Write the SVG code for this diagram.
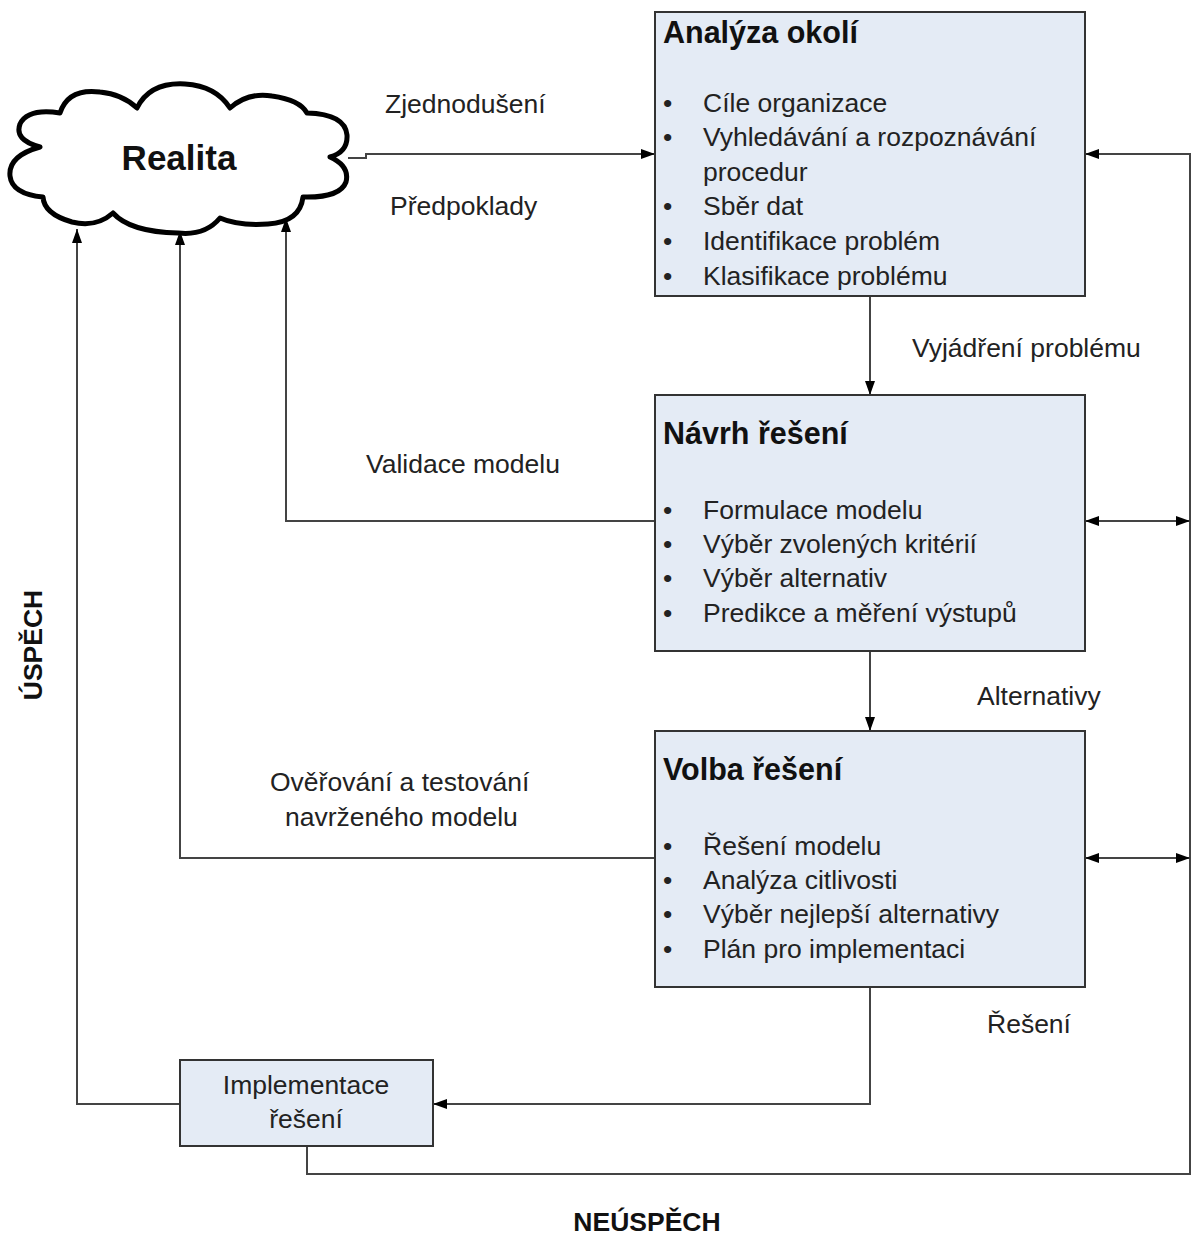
<svg xmlns="http://www.w3.org/2000/svg" width="1192" height="1238" viewBox="0 0 1192 1238">
  <defs>
    <marker id="arr" viewBox="0 0 14 10" refX="14" refY="5" markerWidth="14" markerHeight="10" markerUnits="userSpaceOnUse" orient="auto-start-reverse">
      <path d="M0,0 L14,5 L0,10 Z" fill="#000"/>
    </marker>
    <style>
      .box { fill: #e4ebf5; stroke: #333; stroke-width: 2; }
      .line { fill: none; stroke: #444; stroke-width: 2; }
      .title { font-family: "Liberation Sans", Arial, sans-serif; font-weight: bold; font-size: 30.5px; fill: #111; }
      .item { font-family: "Liberation Sans", Arial, sans-serif; font-size: 26.5px; fill: #222; }
      .lbl { font-family: "Liberation Sans", Arial, sans-serif; font-size: 26.5px; fill: #222; }
      .bold { font-family: "Liberation Sans", Arial, sans-serif; font-weight: bold; font-size: 26.5px; fill: #111; }
    </style>
  </defs>
  <rect width="1192" height="1238" fill="#fff"/>

  <!-- connectors -->
  <g id="connectors">
    <path class="line" d="M348,158 H366 V154 H655" marker-end="url(#arr)"/>
    <path class="line" d="M870,296 V395" marker-end="url(#arr)"/>
    <path class="line" d="M870,651 V731" marker-end="url(#arr)"/>
    <path class="line" d="M870,987 V1104 H433" marker-end="url(#arr)"/>
    <path class="line" d="M180,1104 H77 V229" marker-end="url(#arr)"/>
    <path class="line" d="M655,858 H180 V231" marker-end="url(#arr)"/>
    <path class="line" d="M655,521 H286 V218" marker-end="url(#arr)"/>
    <path class="line" d="M307,1146 V1174 H1190 V154 H1085" marker-end="url(#arr)"/>
    <path class="line" d="M1085,521 H1190" marker-start="url(#arr)" marker-end="url(#arr)"/>
    <path class="line" d="M1085,858 H1190" marker-start="url(#arr)" marker-end="url(#arr)"/>
  </g>

  <!-- cloud -->
  <g id="realita">
    <path d="M60,113 Q68,88 100,92 Q122,94 137,108 Q150,82 185,84 Q216,86 230,108 Q248,92 272,96 Q300,100 307,113 Q345,114 347,135 Q348,152 330,157 Q350,166 346,182 Q340,198 303,197 Q300,222 268,224 Q238,226 220,218 Q205,236 178,233 Q130,232 113,213 Q96,228 72,222 Q44,214 43,197 Q12,194 10,176 Q8,156 40,147 Q14,140 20,124 Q28,108 60,113 Z" fill="#fff" stroke="#000" stroke-width="5" stroke-linejoin="round"/>
    <text x="179" y="170" text-anchor="middle" class="bold" style="font-size:35px">Realita</text>
  </g>

  <!-- analysis box -->
  <g id="analyza">
    <rect class="box" x="655" y="12" width="430" height="284"/>
    <text x="663" y="43" class="title">Analýza okolí</text>
    <g class="item">
      <text x="663" y="112">•</text><text x="703" y="112">Cíle organizace</text>
      <text x="663" y="146">•</text><text x="703" y="146">Vyhledávání a rozpoznávání</text>
      <text x="703" y="181">procedur</text>
      <text x="663" y="215">•</text><text x="703" y="215">Sběr dat</text>
      <text x="663" y="250">•</text><text x="703" y="250">Identifikace problém</text>
      <text x="663" y="285">•</text><text x="703" y="285">Klasifikace problému</text>
    </g>
  </g>

  <!-- design box -->
  <g id="navrh">
    <rect class="box" x="655" y="395" width="430" height="256"/>
    <text x="663" y="444" class="title">Návrh řešení</text>
    <g class="item">
      <text x="663" y="519">•</text><text x="703" y="519">Formulace modelu</text>
      <text x="663" y="553">•</text><text x="703" y="553">Výběr zvolených kritérií</text>
      <text x="663" y="587">•</text><text x="703" y="587">Výběr alternativ</text>
      <text x="663" y="622">•</text><text x="703" y="622">Predikce a měření výstupů</text>
    </g>
  </g>

  <!-- choice box -->
  <g id="volba">
    <rect class="box" x="655" y="731" width="430" height="256"/>
    <text x="663" y="780" class="title">Volba řešení</text>
    <g class="item">
      <text x="663" y="855">•</text><text x="703" y="855">Řešení modelu</text>
      <text x="663" y="889">•</text><text x="703" y="889">Analýza citlivosti</text>
      <text x="663" y="923">•</text><text x="703" y="923">Výběr nejlepší alternativy</text>
      <text x="663" y="958">•</text><text x="703" y="958">Plán pro implementaci</text>
    </g>
  </g>

  <!-- implementation box -->
  <g id="implementace">
    <rect class="box" x="180" y="1060" width="253" height="86"/>
    <text x="306" y="1094" text-anchor="middle" class="item">Implementace</text>
    <text x="306" y="1128" text-anchor="middle" class="item">řešení</text>
  </g>

  <!-- connector labels -->
  <g id="labels">
    <text x="385" y="113" class="lbl">Zjednodušení</text>
    <text x="390" y="215" class="lbl">Předpoklady</text>
    <text x="912" y="357" class="lbl">Vyjádření problému</text>
    <text x="366" y="473" class="lbl">Validace modelu</text>
    <text x="977" y="705" class="lbl">Alternativy</text>
    <text x="270" y="791" class="lbl">Ověřování a testování</text>
    <text x="285" y="826" class="lbl">navrženého modelu</text>
    <text x="987" y="1033" class="lbl">Řešení</text>
    <text x="647" y="1231" text-anchor="middle" class="bold">NEÚSPĚCH</text>
    <text x="0" y="0" text-anchor="middle" class="bold" transform="translate(42,645) rotate(-90)">ÚSPĚCH</text>
  </g>
</svg>
